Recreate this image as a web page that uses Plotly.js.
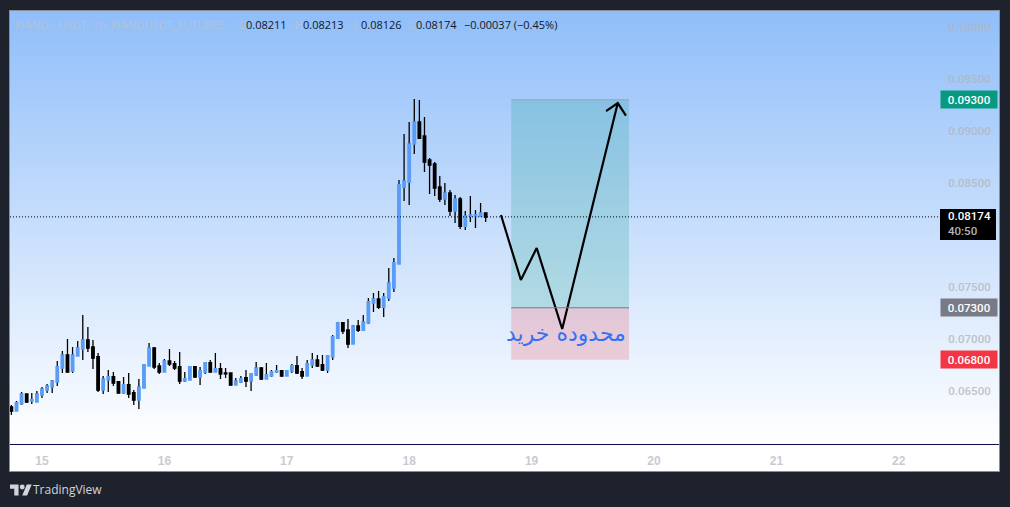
<!DOCTYPE html>
<html>
<head>
<meta charset="utf-8">
<script src="https://cdn.plot.ly/plotly-3.0.1.min.js"></script>
<style>
html, body { margin: 0; padding: 0; background: #1e222d; overflow: hidden; }
#bg { position: absolute; left: 10px; top: 11px; width: 989px; height: 460px;
	background: linear-gradient(#90bef9 0, #ffffff 433px); outline: 1px solid #8a8d96; }
#chart { position: absolute; left: 0; top: 0; width: 1010px; height: 507px; }
#logo { position: absolute; left: 10px; top: 484px; }
</style>
</head>
<body>
<div id="bg"></div>
<div id="chart"></div>
<svg id="logo" width="22" height="12" viewBox="0 4 36 18"><path fill="#d1d4dc" d="M14 22H7V11H0V4h14v18zM28 22h-8l7.5-18h8L28 22z"/><circle fill="#d1d4dc" cx="20" cy="8" r="4"/></svg>
<script>
// hourly candles, first one is 14th 18:00
let open = [
	.06346,.06308,.06375,.06471,.06404,.06394,.06462,.06510,.06538,.06587,.06721,.06846,.06692,.06837,.06904,.06990,
	.06923,.06827,.06510,.06606,.06635,.06587,.06481,.06558,.06481,.06413,.06529,.06740,.06913,.06740,.06683,.06788,
	.06760,.06731,.06596,.06606,.06731,.06635,.06683,.06770,.06683,.06712,.06673,.06673,.06558,.06587,.06625,.06596,
	.06654,.06721,.06616,.06645,.06683,.06693,.06645,.06693,.06741,.06683,.06645,.06750,.06798,.06750,.06702,.06827,
	.07009,.07154,.07086,.06952,.07125,.07086,.07154,.07346,.07384,.07307,.07394,.07490,.07721,.08461,.08509,.08875,
	.09086,.08952,.08721,.08682,.08461,.08346,.08404,.08231,.08346,.08086,.08182,.08182,.08182,.08211
];
let high = [
	.06365,.06404,.06490,.06471,.06481,.06500,.06538,.06567,.06606,.06788,.06885,.07000,.06923,.06981,.07231,.07115,
	.06990,.06865,.06644,.06702,.06683,.06596,.06635,.06673,.06510,.06615,.06760,.06962,.06923,.06769,.06808,.06904,
	.06789,.06875,.06683,.06741,.06741,.06731,.06779,.06798,.06866,.06770,.06721,.06673,.06625,.06645,.06702,.06664,
	.06779,.06731,.06770,.06702,.06750,.06693,.06702,.06760,.06837,.06721,.06798,.06866,.06846,.06846,.06846,.07039,
	.07154,.07154,.07192,.07134,.07182,.07231,.07394,.07442,.07461,.07442,.07682,.07779,.08529,.08971,.09086,.09307,
	.09298,.09134,.08740,.08702,.08567,.08500,.08432,.08384,.08365,.08231,.08375,.08240,.08307,.08213
];
let low = [
	.06269,.06308,.06365,.06394,.06375,.06394,.06433,.06481,.06481,.06548,.06673,.06683,.06673,.06837,.06798,.06875,
	.06712,.06490,.06471,.06490,.06548,.06481,.06471,.06433,.06365,.06327,.06529,.06740,.06712,.06663,.06683,.06740,
	.06702,.06568,.06587,.06606,.06635,.06558,.06664,.06683,.06683,.06616,.06625,.06558,.06558,.06577,.06539,.06500,
	.06645,.06606,.06616,.06635,.06673,.06645,.06645,.06673,.06664,.06616,.06645,.06721,.06731,.06693,.06673,.06798,
	.07009,.07048,.06913,.06952,.07067,.07086,.07144,.07259,.07288,.07211,.07365,.07452,.07721,.08327,.08288,.08779,
	.08923,.08606,.08394,.08375,.08317,.08288,.08182,.08115,.08058,.08048,.08125,.08067,.08182,.08126
];
let close = [
	.06308,.06385,.06471,.06394,.06417,.06471,.06519,.06548,.06596,.06731,.06846,.06683,.06846,.06913,.06990,.06913,
	.06817,.06510,.06615,.06635,.06577,.06481,.06558,.06471,.06413,.06538,.06750,.06913,.06731,.06683,.06788,.06760,
	.06721,.06596,.06616,.06731,.06635,.06693,.06770,.06683,.06712,.06664,.06667,.06558,.06596,.06616,.06596,.06664,
	.06721,.06616,.06654,.06683,.06693,.06645,.06693,.06741,.06673,.06645,.06760,.06798,.06741,.06702,.06837,.07020,
	.07154,.07077,.06952,.07125,.07086,.07163,.07356,.07384,.07307,.07404,.07538,.07731,.08481,.08519,.08875,.09086,
	.08932,.08702,.08673,.08452,.08346,.08404,.08231,.08346,.08086,.08182,.08192,.08192,.08211,.08174
];
let lastPrice = .08174;
let targetPrice = .09300;
let entryPrice = .07300;
let stopPrice = .06800;

// the hand drawn path
let pathHours = [90, 93.9, 97, 102, 112.9];
let pathPrices = [.08192, .07567, .07875, .07096, .09269];
let headHours = [110.6, 112.9, 114.5];
let headPrices = [.09192, .09269, .09147];

let dayTicks = [0, 24, 48, 72, 96, 120, 144, 168];
let dayLabels = ['15', '16', '17', '18', '19', '20', '21', '22'];
let priceTicks = [.065, .07, .075, .085, .09, .095, .1];

let hours = [];
for (let i = 0; i < open.length; i++) hours.push(i - 6);

// plotly draws wicks and body border in one colour, TV has black wicks on blue bodies
// so wicks first (open = close, no body) and then the bodies alone on top
let bodyHigh = open.map((o, i) => Math.max(o, close[i]));
let bodyLow = open.map((o, i) => Math.min(o, close[i]));

let traces = [{
	type: 'candlestick',
	x: hours, open: close, high: high, low: low, close: close,
	increasing: {line: {color: '#000000', width: 1.3}, fillcolor: '#000000'},
	decreasing: {line: {color: '#000000', width: 1.3}, fillcolor: '#000000'},
	whiskerwidth: 0,
	hoverinfo: 'skip'
}, {
	type: 'candlestick',
	x: hours, open: open, high: bodyHigh, low: bodyLow, close: close,
	increasing: {line: {color: '#5b9cf6', width: 1.7}, fillcolor: '#5b9cf6'},
	decreasing: {line: {color: '#000000', width: 1.7}, fillcolor: '#000000'},
	whiskerwidth: 0,
	hoverinfo: 'skip'
}, {
	type: 'scatter', mode: 'lines',
	x: pathHours, y: pathPrices,
	line: {color: '#000000', width: 2.2}, hoverinfo: 'skip'
}, {
	type: 'scatter', mode: 'lines',
	x: headHours, y: headPrices,
	line: {color: '#000000', width: 2.2}, hoverinfo: 'skip'
}];

let shapes = [
	{type: 'rect', xref: 'x', yref: 'y', x0: 92, x1: 115.1, y0: entryPrice, y1: targetPrice, fillcolor: 'rgba(8,153,129,0.2)', line: {width: 0}, layer: 'below'},
	{type: 'rect', xref: 'x', yref: 'y', x0: 92, x1: 115.1, y0: stopPrice, y1: entryPrice, fillcolor: 'rgba(242,54,69,0.2)', line: {width: 0}, layer: 'below'},
	{type: 'line', xref: 'x', yref: 'y', x0: 92, x1: 115.1, y0: entryPrice, y1: entryPrice, line: {color: '#787b86', width: 1}},
	{type: 'line', xref: 'x', yref: 'y', x0: 92, x1: 115.1, y0: targetPrice, y1: targetPrice, line: {color: '#9aa3ad', width: 1}},
	{type: 'line', xref: 'paper', yref: 'y', x0: 0, x1: 1, y0: lastPrice, y1: lastPrice, line: {color: '#000000', width: 1, dash: '1px,2px'}},
	{type: 'line', xref: 'paper', yref: 'paper', x0: 0, x1: 1.0634, y0: -0.00115, y1: -0.00115, line: {color: '#0a0a50', width: 1}},
	// box behind the last price, two lines high
	{type: 'rect', xref: 'paper', yref: 'y', x0: 1, x1: 1.0602, y0: .07952, y1: .0825, fillcolor: '#000000', line: {width: 0}}
];

function priceTag(y, text, color) {
	return {xref: 'paper', yref: 'y', x: 1, y: y, xanchor: 'left', yanchor: 'middle',
		text: text, showarrow: false, bgcolor: color, width: 56, height: 17, align: 'center', borderpad: 0,
		font: {family: 'Roboto, sans-serif', size: 11.5, weight: 500, color: '#ffffff'}};
}
function topText(x, text, color) {
	return {xref: 'paper', yref: 'paper', x: (x - 10) / 930, y: 1.0, yshift: -13, xanchor: 'left', yanchor: 'middle',
		text: text, showarrow: false, font: {family: '"Open Sans", sans-serif', size: 11, color: color}};
}

let annotations = [
	topText(13, 'KIANO / USDT, 1h, KIANOUSDT_FUTURES', 'rgba(190,195,205,0.75)'),
	topText(236, 'O', 'rgba(190,195,205,0.75)'),
	topText(244, '0.08211', '#131722'),
	topText(293, 'H', 'rgba(190,195,205,0.75)'),
	topText(301, '0.08213', '#131722'),
	topText(351, 'L', 'rgba(190,195,205,0.75)'),
	topText(359, '0.08126', '#131722'),
	topText(406, 'C', 'rgba(190,195,205,0.75)'),
	topText(414, '0.08174', '#131722'),
	topText(462, '\u22120.00037 (\u22120.45%)', '#131722'),
	priceTag(targetPrice, '0.09300', '#089981'),
	{xref: 'paper', yref: 'y', x: 1, y: lastPrice, xanchor: 'left', yanchor: 'middle', xshift: 6, yshift: -7,
		text: '0.08174<br><span style="color:#b2b5be">40:50</span>', showarrow: false, align: 'left',
		font: {family: 'Roboto, sans-serif', size: 11.5, weight: 500, color: '#ffffff'}},
	priceTag(entryPrice, '0.07300', '#787b86'),
	priceTag(stopPrice, '0.06800', '#f23645'),
	{xref: 'x', yref: 'y', x: 102.7, y: .0705, xanchor: 'center', yanchor: 'middle', text: 'محدوده خرید', showarrow: false,
		font: {family: '"DejaVu Sans", sans-serif', size: 22, color: '#3570f5'}},
	{xref: 'paper', yref: 'paper', x: 21 / 930, y: -0.105, xanchor: 'left', yanchor: 'middle', text: 'TradingView', showarrow: false,
		font: {family: '"Open Sans", sans-serif', size: 12, color: '#d1d4dc'}}
];

let layout = {
	width: 1010, height: 507,
	margin: {l: 10, r: 70, t: 11, b: 63},
	paper_bgcolor: 'rgba(0,0,0,0)', plot_bgcolor: 'rgba(0,0,0,0)',
	showlegend: false,
	boxgap: 0.4,
	xaxis: {
		range: [-6.27, 176.08], tickvals: dayTicks, ticktext: dayLabels,
		rangeslider: {visible: false}, showgrid: false, zeroline: false, showline: false,
		ticks: 'outside', ticklen: 6, tickcolor: 'rgba(0,0,0,0)',
		tickfont: {family: '"Liberation Sans", sans-serif', size: 12, weight: 700, color: '#c9cbd3'}
	},
	yaxis: {
		side: 'right', range: [.0599, .10154], tickvals: priceTicks, tickformat: '.5f',
		showgrid: false, zeroline: false, showline: false,
		ticks: 'outside', ticklen: 5, tickcolor: 'rgba(0,0,0,0)',
		tickfont: {family: 'Roboto, sans-serif', size: 11.5, weight: 500, color: 'rgba(180,180,185,0.8)'}
	},
	shapes: shapes,
	annotations: annotations
};
Plotly.newPlot('chart', traces, layout, {displayModeBar: false, staticPlot: true});
</script>
</body>
</html>
